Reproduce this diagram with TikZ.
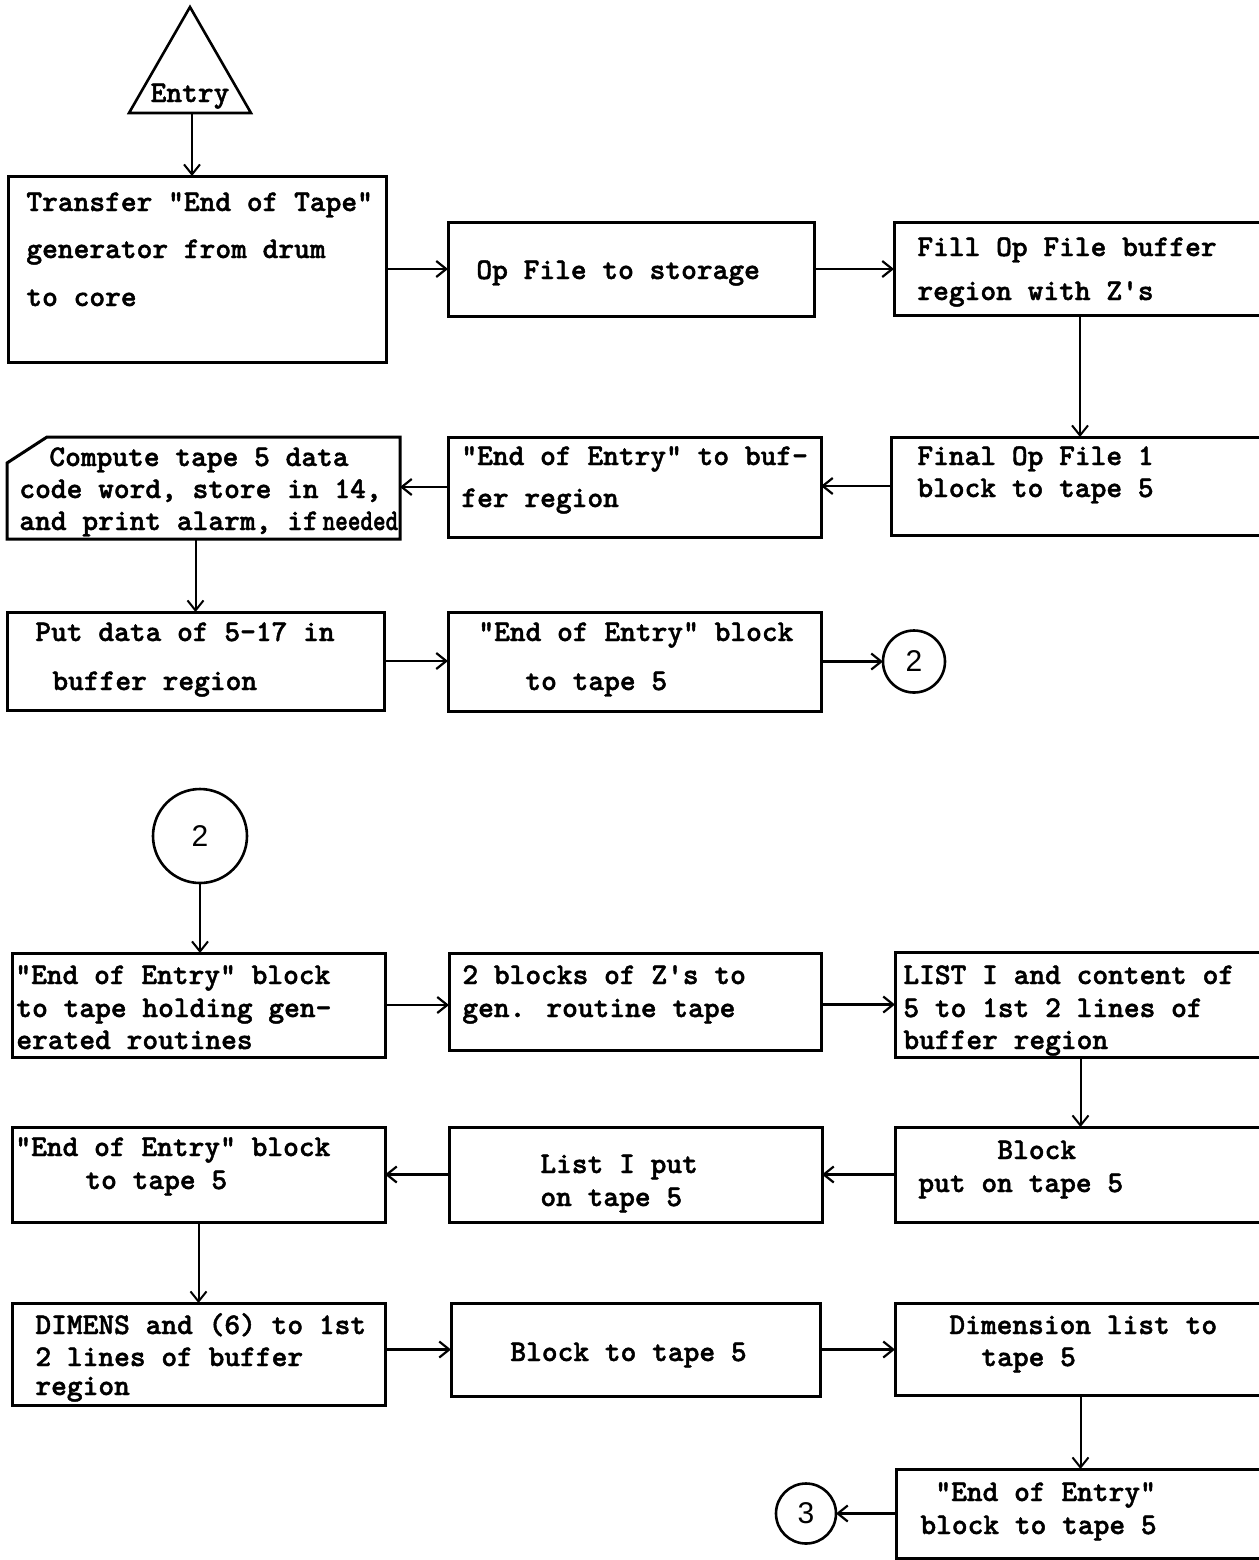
\documentclass[tikz,border=0pt]{standalone}
\usepackage{fontspec}
\usetikzlibrary{arrows.meta,calc}
\newfontfamily\tw{lmmonolt10-bold.otf}[FakeBold=1.5]
\newfontfamily\digitfont{Liberation Sans}

% rectangle of given corners (in picture units), named
\newcommand\flowbox[6][box]{%
  \node[#1, minimum width={(#5-#3)*0.5pt}, minimum height={(#6-#4)*0.5pt}]
    (#2) at ({(#3+#5)/2},{(#4+#6)/2}) {};}

\tikzset{
  box/.style={draw, rectangle, line width=1.5pt, inner sep=0pt, outer sep=0pt},
  frame/.style={rectangle, inner sep=0pt, outer sep=0pt},
  txt/.style={anchor=base west, inner sep=0pt, font=\tw\fontsize{15pt}{18pt}\selectfont},
  conn/.style={circle, draw, line width=1.3pt, inner sep=0pt, outer sep=0pt,
               font=\digitfont\fontsize{15pt}{18pt}\selectfont},
  arr/.style={line width=1.3pt, -{Straight Barb[length=5pt,width=8pt,line width=1.1pt]}},
  varr/.style={line width=1pt, -{Straight Barb[length=5pt,width=8pt,line width=1pt]}},
}

\begin{document}
\begin{tikzpicture}[x=0.5pt, y=-0.5pt]
\useasboundingbox (0,0) rectangle (1259,1560);

% ---- entry triangle
\coordinate (triTop) at (190,7);
\coordinate (triL) at (129,113);
\coordinate (triR) at (251,113);
\coordinate (triB) at (192,113);
\draw[line width=1.3pt] (triTop) -- (triR) -- (triL) -- cycle;
\node[txt, anchor=base] (entry) at (190,102) {Entry};

% ---- first page of the chart
\flowbox{A}{8}{176}{386}{362}
\node[txt] (A1) at (26,211) {Transfer "End of Tape"};
\node[txt] (A2) at (26,258) {generator from drum};
\node[txt] (A3) at (26,306) {to core};

\flowbox{B}{448}{222}{814}{316}
\node[txt] (B1) at (476,279) {Op File to storage};

\flowbox{C}{894}{222}{1266}{315}
\node[txt] (C1) at (917,256) {Fill Op File buffer};
\node[txt] (C2) at (917,300) {region with Z's};

\flowbox{D}{891}{437}{1266}{535}
\node[txt] (D1) at (917,465) {Final Op File 1};
\node[txt] (D2) at (917,497) {block to tape 5};

\flowbox{E}{448}{437}{821}{537}
\node[txt] (E1) at (461,465) {"End of Entry" to buf-};
\node[txt] (E2) at (461,507) {fer region};

\flowbox[frame]{F}{7}{437}{400}{539}
\draw[line width=1.5pt] ($(F.north west)+(0,26)$) -- ($(F.north west)+(40,0)$)
  -- (F.north east) -- (F.south east) -- (F.south west) -- cycle;
\node[txt] (F1) at (49,466) {Compute tape 5 data};
\node[txt] (F2) at (19,498) {code word, store in 14,};
\node[txt] (F3) at (19,530) {and print alarm, if\hspace{2pt}\scalebox{0.8}[1]{needed}};

\flowbox{G}{7}{612}{384}{710}
\node[txt] (G1) at (35,641) {Put data of 5-17 in};
\node[txt] (G2) at (52,690) {buffer region};

\flowbox{H}{448}{612}{821}{711}
\node[txt] (H1) at (478,641) {"End of Entry" block};
\node[txt] (H2) at (525,690) {to tape 5};

\node[conn, minimum size=31pt] (c2a) at (914,661.5) {2};

% ---- second page of the chart
\node[conn, minimum size=47pt] (c2b) at (200,836) {2};

\flowbox{I}{12}{953}{385}{1057}
\node[txt] (I1) at (15,984) {"End of Entry" block};
\node[txt] (I2) at (16,1017) {to tape holding gen-};
\node[txt] (I3) at (16,1049) {erated routines};

\flowbox{J}{449}{953}{821}{1050}
\node[txt] (J1) at (462,984) {2 blocks of Z's to};
\node[txt] (J2) at (462,1017) {gen. routine tape};

\flowbox{K}{895}{952}{1266}{1057}
\node[txt] (K1) at (903,984) {LIST I and content of};
\node[txt] (K2) at (903,1017) {5 to 1st 2 lines of};
\node[txt] (K3) at (903,1049) {buffer region};

\flowbox{L}{895}{1127}{1266}{1222}
\node[txt] (L1) at (997,1159) {Block};
\node[txt] (L2) at (918,1192) {put on tape 5};

\flowbox{M}{449}{1127}{822}{1222}
\node[txt] (M1) at (540,1173) {List I put};
\node[txt] (M2) at (540,1206) {on tape 5};

\flowbox{N}{12}{1127}{385}{1222}
\node[txt] (N1) at (15,1156) {"End of Entry" block};
\node[txt] (N2) at (85,1189) {to tape 5};

\flowbox{O}{12}{1303}{385}{1405}
\node[txt] (O1) at (35,1334) {DIMENS and (6) to 1st};
\node[txt] (O2) at (35,1366) {2 lines of buffer};
\node[txt] (O3) at (35,1395) {region};

\flowbox{P}{451}{1303}{820}{1396}
\node[txt] (P1) at (510,1361) {Block to tape 5};

\flowbox{Q}{895}{1303}{1266}{1395}
\node[txt] (Q1) at (949,1334) {Dimension list to};
\node[txt] (Q2) at (981,1366) {tape 5};

\flowbox{R}{896}{1469}{1266}{1558}
\node[txt] (R1) at (935,1501) {"End of Entry"};
\node[txt] (R2) at (920,1534) {block to tape 5};

\node[conn, minimum size=30pt] (c3) at (806,1513.5) {3};

% ---- connectors
\draw[varr] (triB) -- (triB |- A.north);
\draw[arr] (A.east) -- (A.east -| B.west);
\draw[arr] (B.east) -- (B.east -| C.west);
\draw[varr] (C.south) -- (C.south |- D.north);
\draw[arr] (D.west) -- (D.west -| E.east);
\draw[arr] (E.west) -- (E.west -| F.east);
\draw[varr] (G.north |- F.south) -- (G.north);
\draw[arr] (G.east) -- (G.east -| H.west);
\draw[arr] (H.east) -- (c2a);

\draw[varr] (c2b) -- (c2b |- I.north);
\draw[arr] (I.east) -- (I.east -| J.west);
\draw[arr] (J.east |- K.west) -- (K.west);
\draw[varr] (K.south) -- (K.south |- L.north);
\draw[arr] (L.west) -- (L.west -| M.east);
\draw[arr] (M.west) -- (M.west -| N.east);
\draw[varr] (N.south) -- (N.south |- O.north);
\draw[arr] (P.west -| O.east) -- (P.west);
\draw[arr] (P.east) -- (P.east -| Q.west);
\draw[varr] (Q.south) -- (Q.south |- R.north);
\draw[arr] (R.west) -- (c3);
\end{tikzpicture}
\end{document}
